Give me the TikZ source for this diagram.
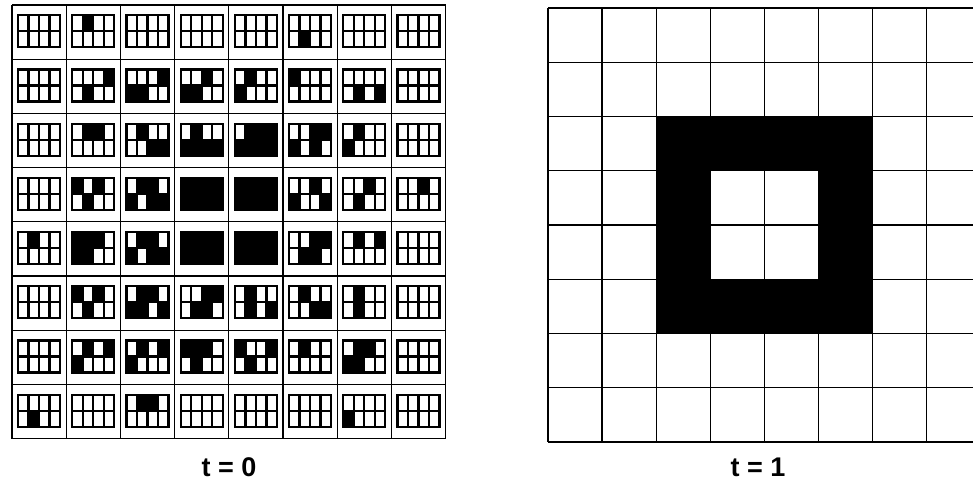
\documentclass[tikz,border=0pt]{standalone}
\usepackage{fontspec}
\setmainfont{Liberation Sans}
\newcommand\subpat[3]{%
  \begin{scope}[shift={({12+54.2*#1+6.1},{5+54.2*#2+10.3})}]
    \foreach \bt [count=\i from 0] in {#3} {%
      \ifnum\bt=1
        \pgfmathsetmacro\xx{mod(\i,4)*10.5}%
        \pgfmathsetmacro\yy{int(\i/4)*16}%
        \fill (\xx,\yy) rectangle ++(10.5,16);
      \fi}
    \draw[sub] (0,0) rectangle (42,32) (0,16) -- (42,16)
      (10.5,0) -- (10.5,32) (21,0) -- (21,32) (31.5,0) -- (31.5,32);
  \end{scope}}
\newcommand\subrow[9]{%
  \subpat{0}{#1}{#2}\subpat{1}{#1}{#3}\subpat{2}{#1}{#4}\subpat{3}{#1}{#5}%
  \subpat{4}{#1}{#6}\subpat{5}{#1}{#7}\subpat{6}{#1}{#8}\subpat{7}{#1}{#9}}
\begin{document}
\begin{tikzpicture}[x=1pt,y=-1pt]
\tikzset{
  frame/.style={line width=1.3pt, draw=black},
  sub/.style={line width=2.3pt, draw=black},
  lbl/.style={font=\fontsize{27}{32}\selectfont\bfseries}
}
\useasboundingbox (0,0) rectangle (973,484);
\fill[white] (0,0) rectangle (973,484);
% ---- left grid (t = 0)
\foreach \k in {0,...,8} {
  \draw[frame] ({12+54.2*\k},5) -- ({12+54.2*\k},438.6);
  \draw[frame] (12,{5+54.2*\k}) -- (445.6,{5+54.2*\k});
}
\subrow{0}{0,0,0,0,0,0,0,0}{0,1,0,0,0,0,0,0}{0,0,0,0,0,0,0,0}{0,0,0,0,0,0,0,0}{0,0,0,0,0,0,0,0}{0,0,0,0,0,1,0,0}{0,0,0,0,0,0,0,0}{0,0,0,0,0,0,0,0}
\subrow{1}{0,0,0,0,0,0,0,0}{0,0,0,1,0,1,0,0}{0,0,0,1,1,1,0,0}{0,0,1,0,1,1,0,0}{0,1,0,0,1,0,0,0}{1,0,0,0,0,0,0,0}{0,0,0,0,0,1,0,1}{0,0,0,0,0,0,0,0}
\subrow{2}{0,0,0,0,0,0,0,0}{0,1,1,0,0,0,0,0}{0,1,0,0,0,0,1,1}{0,1,0,0,1,1,1,1}{0,1,1,1,1,1,1,1}{0,0,1,1,1,0,1,0}{0,1,0,0,1,0,0,0}{0,0,0,0,0,0,0,0}
\subrow{3}{0,0,0,0,0,0,0,0}{1,0,1,0,0,1,0,0}{0,1,1,0,1,0,1,1}{1,1,1,1,1,1,1,1}{1,1,1,1,1,1,1,1}{0,0,1,0,1,0,0,1}{0,0,1,0,0,1,0,0}{0,0,1,0,0,0,0,0}
\subrow{4}{0,1,0,0,0,0,0,0}{1,1,1,0,1,1,0,0}{0,1,1,0,1,0,1,1}{1,1,1,1,1,1,1,1}{1,1,1,1,1,1,1,1}{0,0,1,1,0,1,1,0}{0,1,0,1,0,0,0,0}{0,0,0,0,0,0,0,0}
\subrow{5}{0,0,0,0,0,0,0,0}{1,0,1,0,0,1,0,0}{0,1,1,0,1,1,0,1}{0,0,1,1,0,1,1,0}{0,1,0,0,0,1,0,1}{0,1,0,0,0,0,1,1}{0,1,0,0,0,1,0,0}{0,0,0,0,0,0,0,0}
\subrow{6}{0,0,0,0,0,0,0,0}{0,1,0,1,1,0,0,0}{0,1,0,1,1,0,0,0}{1,1,1,0,0,1,0,0}{1,0,0,1,0,1,0,0}{0,1,0,0,0,0,0,0}{0,1,1,0,1,1,0,0}{0,0,0,0,0,0,0,0}
\subrow{7}{0,0,0,0,0,1,0,0}{0,0,0,0,0,0,0,0}{0,1,1,0,0,0,0,0}{0,0,0,0,0,0,0,0}{0,0,0,0,0,0,0,0}{0,0,0,0,0,0,0,0}{0,0,0,0,1,0,0,0}{0,0,0,0,0,0,0,0}
% ---- right grid (t = 1)
\fill[black] (656.2,116.5) rectangle (872.6,333.5);
\fill[white] (710.3,170.75) rectangle (818.5,279.25);
\foreach \k in {0,...,8} {
  \draw[frame] ({548+54.1*\k},8) -- ({548+54.1*\k},442);
  \draw[frame] (548,{8+54.25*\k}) -- (985,{8+54.25*\k});
}
% ---- labels
\node[lbl] (t0) at (229,467) {t = 0};
\node[lbl] (t1) at (758,467) {t = 1};
\end{tikzpicture}
\end{document}
